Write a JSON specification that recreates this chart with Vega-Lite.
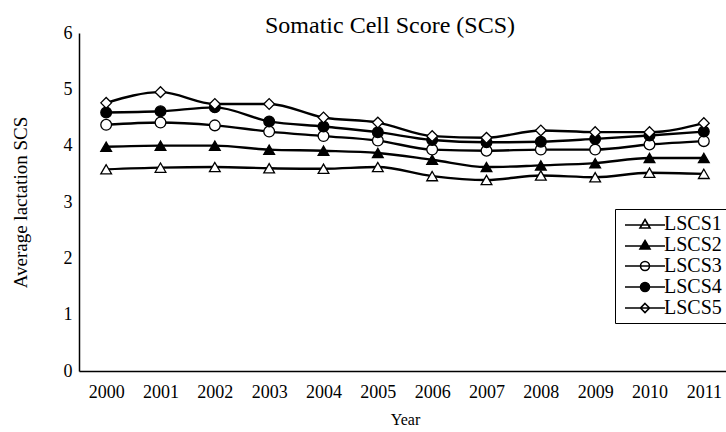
{
  "$schema": "https://vega.github.io/schema/vega-lite/v6.json",
  "width": 652,
  "height": 338,
  "autosize": {"type": "none"},
  "padding": {"left": 79, "top": 33, "right": 0, "bottom": 61},
  "background": "white",
  "title": {"text": "Somatic Cell Score (SCS)", "font": "Liberation Serif", "fontSize": 24, "fontWeight": "normal", "color": "black", "anchor": "middle", "frame": "group", "baseline": "alphabetic", "offset": -33, "dx": -15},
  "config": {
    "view": {"stroke": null},
    "axis": {"labelFont": "Liberation Serif", "titleFont": "Liberation Serif", "labelColor": "black", "titleColor": "black", "domainColor": "black", "domainWidth": 1.5, "ticks": false, "grid": false, "titleFontWeight": "normal"},
    "legend": {"labelFont": "Liberation Serif", "labelColor": "black"}
  },
  "data": {"values": [
    {"year": "2000", "series": "LSCS1", "scs": 3.58},
    {"year": "2001", "series": "LSCS1", "scs": 3.61},
    {"year": "2002", "series": "LSCS1", "scs": 3.62},
    {"year": "2003", "series": "LSCS1", "scs": 3.60},
    {"year": "2004", "series": "LSCS1", "scs": 3.59},
    {"year": "2005", "series": "LSCS1", "scs": 3.62},
    {"year": "2006", "series": "LSCS1", "scs": 3.46},
    {"year": "2007", "series": "LSCS1", "scs": 3.39},
    {"year": "2008", "series": "LSCS1", "scs": 3.47},
    {"year": "2009", "series": "LSCS1", "scs": 3.44},
    {"year": "2010", "series": "LSCS1", "scs": 3.52},
    {"year": "2011", "series": "LSCS1", "scs": 3.50},
    {"year": "2000", "series": "LSCS2", "scs": 3.98},
    {"year": "2001", "series": "LSCS2", "scs": 4.00},
    {"year": "2002", "series": "LSCS2", "scs": 4.00},
    {"year": "2003", "series": "LSCS2", "scs": 3.93},
    {"year": "2004", "series": "LSCS2", "scs": 3.91},
    {"year": "2005", "series": "LSCS2", "scs": 3.87},
    {"year": "2006", "series": "LSCS2", "scs": 3.75},
    {"year": "2007", "series": "LSCS2", "scs": 3.62},
    {"year": "2008", "series": "LSCS2", "scs": 3.65},
    {"year": "2009", "series": "LSCS2", "scs": 3.69},
    {"year": "2010", "series": "LSCS2", "scs": 3.78},
    {"year": "2011", "series": "LSCS2", "scs": 3.78},
    {"year": "2000", "series": "LSCS3", "scs": 4.37},
    {"year": "2001", "series": "LSCS3", "scs": 4.41},
    {"year": "2002", "series": "LSCS3", "scs": 4.36},
    {"year": "2003", "series": "LSCS3", "scs": 4.25},
    {"year": "2004", "series": "LSCS3", "scs": 4.17},
    {"year": "2005", "series": "LSCS3", "scs": 4.09},
    {"year": "2006", "series": "LSCS3", "scs": 3.93},
    {"year": "2007", "series": "LSCS3", "scs": 3.91},
    {"year": "2008", "series": "LSCS3", "scs": 3.93},
    {"year": "2009", "series": "LSCS3", "scs": 3.93},
    {"year": "2010", "series": "LSCS3", "scs": 4.02},
    {"year": "2011", "series": "LSCS3", "scs": 4.08},
    {"year": "2000", "series": "LSCS4", "scs": 4.59},
    {"year": "2001", "series": "LSCS4", "scs": 4.61},
    {"year": "2002", "series": "LSCS4", "scs": 4.68},
    {"year": "2003", "series": "LSCS4", "scs": 4.43},
    {"year": "2004", "series": "LSCS4", "scs": 4.34},
    {"year": "2005", "series": "LSCS4", "scs": 4.24},
    {"year": "2006", "series": "LSCS4", "scs": 4.10},
    {"year": "2007", "series": "LSCS4", "scs": 4.06},
    {"year": "2008", "series": "LSCS4", "scs": 4.07},
    {"year": "2009", "series": "LSCS4", "scs": 4.12},
    {"year": "2010", "series": "LSCS4", "scs": 4.18},
    {"year": "2011", "series": "LSCS4", "scs": 4.25},
    {"year": "2000", "series": "LSCS5", "scs": 4.76},
    {"year": "2001", "series": "LSCS5", "scs": 4.95},
    {"year": "2002", "series": "LSCS5", "scs": 4.74},
    {"year": "2003", "series": "LSCS5", "scs": 4.74},
    {"year": "2004", "series": "LSCS5", "scs": 4.50},
    {"year": "2005", "series": "LSCS5", "scs": 4.41},
    {"year": "2006", "series": "LSCS5", "scs": 4.17},
    {"year": "2007", "series": "LSCS5", "scs": 4.14},
    {"year": "2008", "series": "LSCS5", "scs": 4.27},
    {"year": "2009", "series": "LSCS5", "scs": 4.24},
    {"year": "2010", "series": "LSCS5", "scs": 4.24},
    {"year": "2011", "series": "LSCS5", "scs": 4.40}
  ]},
  "encoding": {
    "x": {"field": "year", "type": "ordinal", "scale": {"paddingInner": 0, "paddingOuter": 0.5},
      "axis": {"title": "Year", "labelAngle": 0, "labelFontSize": 18, "labelPadding": 12, "titleFontSize": 16, "titlePadding": 10}},
    "y": {"field": "scs", "type": "quantitative", "scale": {"domain": [0, 6], "nice": false, "zero": true},
      "axis": {"title": "Average lactation SCS", "values": [0, 1, 2, 3, 4, 5, 6], "labelFontSize": 18, "labelPadding": 7, "titleFontSize": 19, "titlePadding": 33}}
  },
  "layer": [
    {
      "mark": {"type": "line", "interpolate": "monotone", "color": "black", "strokeWidth": 2.4},
      "encoding": {"detail": {"field": "series", "type": "nominal"}}
    },
    {
      "mark": {"type": "point", "filled": true, "stroke": "black", "strokeWidth": 1.3, "opacity": 1, "size": 115},
      "encoding": {
        "shape": {"field": "series", "type": "nominal", "scale": {"domain": ["LSCS1", "LSCS2", "LSCS3", "LSCS4", "LSCS5"], "range": ["triangle-up", "triangle-up", "circle", "circle", "diamond"]}, "legend": null},
        "fill": {"field": "series", "type": "nominal", "scale": {"domain": ["LSCS1", "LSCS2", "LSCS3", "LSCS4", "LSCS5"], "range": ["white", "black", "white", "black", "white"]}, "legend": null}
      }
    },
    {
      "transform": [{"filter": "datum.scs > 100"}],
      "mark": {"type": "point", "filled": true, "strokeWidth": 1.6, "opacity": 1, "size": 100},
      "encoding": {
        "shape": {"field": "series", "type": "nominal", "title": null,
          "scale": {"domain": ["LSCS1", "LSCS2", "LSCS3", "LSCS4", "LSCS5"], "range": [
            "M-4,0.2H4M0,-0.9L1,0.8H-1Z",
            "M-4,0.2H4M0,-0.9L1,0.8H-1Z",
            "M-4,0H4M0.9,0A0.9,0.9,0,1,1,-0.9,0A0.9,0.9,0,1,1,0.9,0Z",
            "M-4,0H4M0.9,0A0.9,0.9,0,1,1,-0.9,0A0.9,0.9,0,1,1,0.9,0Z",
            "M-4,0H4M0,-0.9L0.9,0L0,0.9L-0.9,0Z"]},
          "legend": {"orient": "none", "legendX": 536, "legendY": 176, "strokeColor": "black", "fillColor": "white", "padding": 5, "symbolSize": 100, "symbolStrokeWidth": 1.6, "symbolOffset": 15, "labelOffset": 9, "labelFontSize": 20, "rowPadding": 1, "labelLimit": 200}},
        "fill": {"field": "series", "type": "nominal", "title": null, "scale": {"domain": ["LSCS1", "LSCS2", "LSCS3", "LSCS4", "LSCS5"], "range": ["white", "black", "white", "black", "white"]}},
        "stroke": {"field": "series", "type": "nominal", "title": null, "scale": {"domain": ["LSCS1", "LSCS2", "LSCS3", "LSCS4", "LSCS5"], "range": ["black", "black", "black", "black", "black"]}}
      }
    }
  ],
  "resolve": {"scale": {"shape": "independent", "fill": "independent", "stroke": "independent"}}
}
